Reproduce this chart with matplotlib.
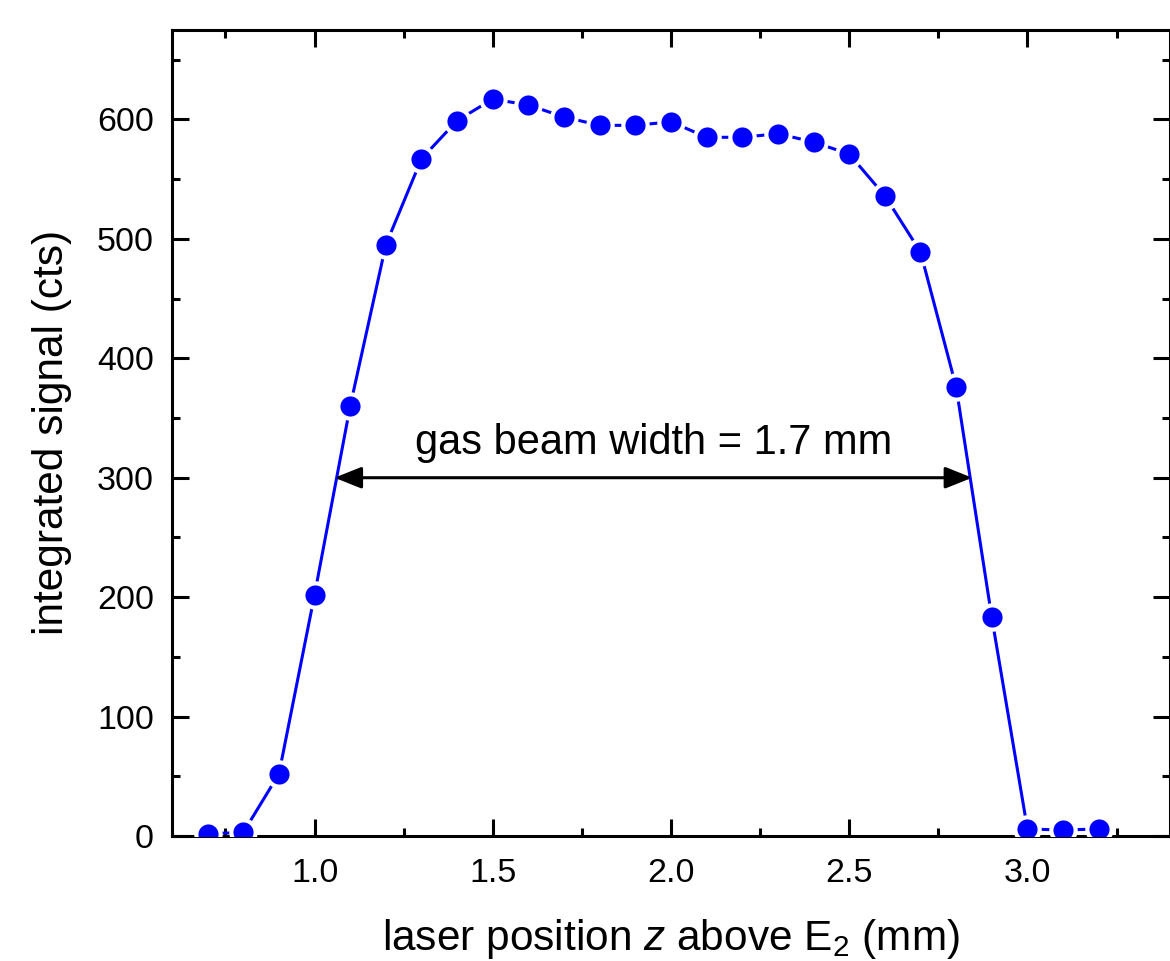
import numpy as np
import matplotlib
matplotlib.use("Agg")
import matplotlib.pyplot as plt
from matplotlib.ticker import MultipleLocator

plt.rcParams['font.family'] = ['Liberation Sans', 'DejaVu Sans']
plt.rcParams['mathtext.fontset'] = 'custom'
plt.rcParams['mathtext.rm'] = 'Liberation Sans'
plt.rcParams['mathtext.it'] = 'Liberation Sans:italic'

# laser position z above E2 (mm) and integrated signal (cts)
z_pos = [0.7, 0.8, 0.9, 1.0, 1.1, 1.2, 1.3, 1.4, 1.5, 1.6, 1.7, 1.8, 1.9,
         2.0, 2.1, 2.2, 2.3, 2.4, 2.5, 2.6, 2.7, 2.8, 2.9, 3.0, 3.1, 3.2]
signal = [2, 3, 52, 202, 360, 495, 567, 599, 617, 612, 602, 595, 595,
          598, 585, 585, 588, 581, 571, 536, 489, 376, 183, 6, 5, 6]

# FWHM arrow
arrow_left, arrow_right, arrow_y = 1.056, 2.845, 300
width_text = "gas beam width = 1.7 mm"

fig = plt.figure(figsize=(11.70, 9.61), dpi=100)
ax = fig.add_axes([0.147, 0.130, 0.853, 0.839])

ax.plot(z_pos, signal, '-', color='#0000ff', lw=2.2, marker='o', ms=17.5,
        mfc='#0000ff', mec='white', mew=3.0, zorder=3)

ax.annotate('', xy=(arrow_left, arrow_y), xytext=(arrow_right, arrow_y),
            arrowprops=dict(arrowstyle='<|-|>,head_length=0.55,head_width=0.22',
                            color='black', lw=2.2,
                            mutation_scale=30, shrinkA=0, shrinkB=0),
            zorder=4)
ax.text((arrow_left + arrow_right) / 2, 312, width_text, ha='center',
        va='bottom', fontsize=30)

ax.set_xlim(0.6, 3.4)
ax.set_ylim(0, 675)
ax.xaxis.set_major_locator(MultipleLocator(0.5))
ax.xaxis.set_minor_locator(MultipleLocator(0.25))
ax.yaxis.set_major_locator(MultipleLocator(100))
ax.yaxis.set_minor_locator(MultipleLocator(50))
ax.xaxis.set_major_formatter(matplotlib.ticker.FormatStrFormatter('%.1f'))

ax.tick_params(which='both', direction='in', top=True, right=True,
               width=2.2, labelsize=24.5)
ax.tick_params(axis='y', pad=13)
ax.tick_params(axis='x', pad=16)
ax.tick_params(which='major', length=12)
ax.tick_params(which='minor', length=6)
for sp in ax.spines.values():
    sp.set_linewidth(2.2)

ax.set_xlabel(r'laser position $z$ above E$_2$ (mm)', fontsize=30.5, labelpad=20)
ax.set_ylabel('integrated signal (cts)', fontsize=30.5, labelpad=18)

fig.savefig('out.png', dpi=100)
